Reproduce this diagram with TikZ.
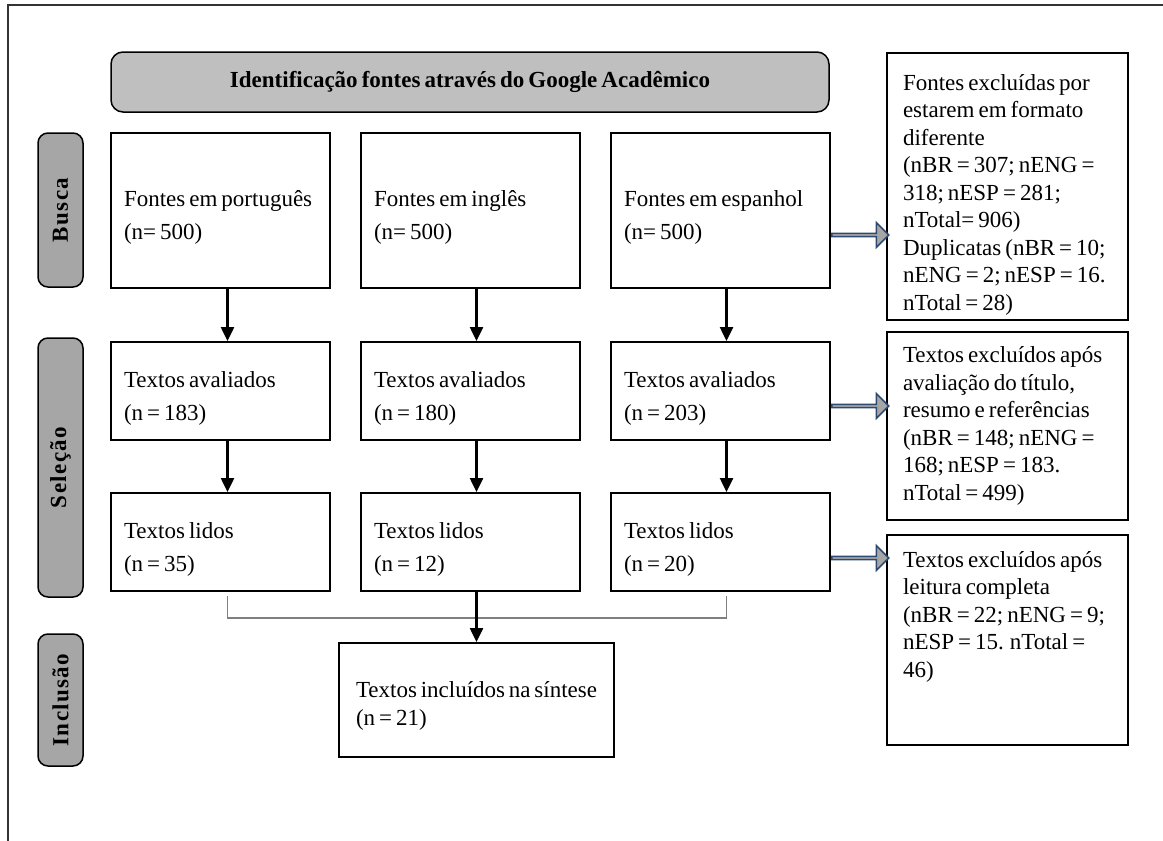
\documentclass[tikz,border=0pt]{standalone}
\usepackage{fontspec}
\setmainfont{Liberation Serif}[WordSpace=0.7]
\newfontfamily\fasefont[LetterSpace=6]{Liberation Serif}
\usetikzlibrary{arrows.meta,shapes.arrows}
\definecolor{contorno}{HTML}{2E4A70}

\begin{document}
\begin{tikzpicture}[x=1pt, y=-1pt, node distance=250pt,
  caixa/.style={shape=rectangle, draw, line width=2pt, text width=193pt, inner xsep=13pt, align=flush left, text height=30pt, text depth=38pt, font=\fontsize{23}{33}\selectfont},
  excluidos/.style={shape=rectangle, draw, line width=2pt, text width=209pt, inner xsep=16pt, align=flush left, text height=20pt, font=\fontsize{23}{27.5}\selectfont},
  fase/.style={shape=rectangle, rounded corners=10pt, draw, line width=1.5pt, fill=gray!70, rotate=90, minimum height=45pt, font=\fasefont\bfseries\fontsize{23}{27}\selectfont},
  seta/.style={-{Triangle[width=13pt,length=14pt]}, line width=2.5pt},
  bloco/.style={single arrow, draw=contorno, fill=gray!70, line width=1.5pt, minimum height=57pt, minimum width=25pt, single arrow head extend=5pt, single arrow tip angle=90, inner sep=0pt, anchor=tail}]
\useasboundingbox (0,0) rectangle (1163,841);
\draw[line width=1.2pt, black!80] (1163,5) -- (8,5) -- (8,841);

\node [shape=rectangle, rounded corners=12pt, draw, line width=1.5pt, fill=gray!50, minimum width=718pt, minimum height=60pt, font=\bfseries\fontsize{23}{27}\selectfont] (titulo) at (470,82) {Identificação fontes através do Google Acadêmico};

\node [fase, minimum width=154pt] (busca) at (60.5,210) {Busca};
\node [fase, minimum width=259pt] (selecao) at (60.5,467.5) {Seleção};
\node [fase, minimum width=132pt] (inclusao) at (60.5,700) {Inclusão};

\node [caixa, minimum height=155pt] (F1) at (220.5,210.5) {Fontes em português\\(n= 500)};
\node [caixa, minimum height=155pt, right of=F1] (F2) {Fontes em inglês\\(n= 500)};
\node [caixa, minimum height=155pt, right of=F2] (F3) {Fontes em espanhol\\(n= 500)};

\node [caixa, minimum height=98pt] (A1) at (220.5,391) {Textos avaliados\\(n = 183)};
\node [caixa, minimum height=98pt, right of=A1] (A2) {Textos avaliados\\(n = 180)};
\node [caixa, minimum height=98pt, right of=A2] (A3) {Textos avaliados\\(n = 203)};

\node [caixa, minimum height=98pt] (L1) at (220.5,542) {Textos lidos\\(n = 35)};
\node [caixa, minimum height=98pt, right of=L1] (L2) {Textos lidos\\(n = 12)};
\node [caixa, minimum height=98pt, right of=L2] (L3) {Textos lidos\\(n = 20)};

\node [caixa, text width=241pt, inner xsep=17pt, minimum height=114pt, text height=20pt, text depth=26pt, font=\fontsize{23}{28}\selectfont] (sintese) at (476.5,700) {Textos incluídos na síntese\\(n = 21)};

\node [excluidos, minimum height=267pt, text depth=213pt] (E1) at (1007.5,186.5) {Fontes excluídas por\\estarem em formato\\diferente\\(nBR = 307; nENG =\\318; nESP = 281;\\nTotal= 906)\\Duplicatas (nBR = 10;\\nENG = 2; nESP = 16.\\nTotal = 28)};
\node [excluidos, minimum height=188pt, text height=16pt] (E2) at (1007.5,426) {Textos excluídos após\\avaliação do título,\\resumo e referências\\(nBR = 148; nENG =\\168; nESP = 183.\\nTotal = 499)};
\node [excluidos, minimum height=210pt, text depth=166pt] (E3) at (1007.5,640) {Textos excluídos após\\leitura completa\\(nBR = 22; nENG = 9;\\nESP = 15. nTotal =\\46)};

\draw[seta] ([xshift=7pt]F1.south) -- ([xshift=7pt]A1.north);
\draw[seta] ([xshift=6pt]F2.south) -- ([xshift=6pt]A2.north);
\draw[seta] ([xshift=6pt]F3.south) -- ([xshift=6pt]A3.north);
\draw[seta] ([xshift=7pt]A1.south) -- ([xshift=7pt]L1.north);
\draw[seta] ([xshift=6pt]A2.south) -- ([xshift=6pt]L2.north);
\draw[seta] ([xshift=6pt]A3.south) -- ([xshift=6pt]L3.north);

\draw[gray, line width=1.2pt] ([xshift=7pt,yshift=-4pt]L1.south) -- ++(0pt,-22pt) -| ([xshift=6pt,yshift=-4pt]L3.south);
\draw[seta] ([xshift=6pt]L2.south) -- (sintese.north);

\node [bloco] (G1) at ([yshift=-24.5pt]F3.east) {};
\node [bloco] (G2) at ([yshift=-15pt]A3.east) {};
\node [bloco] (G3) at ([yshift=-16pt]L3.east) {};
\end{tikzpicture}
\end{document}
